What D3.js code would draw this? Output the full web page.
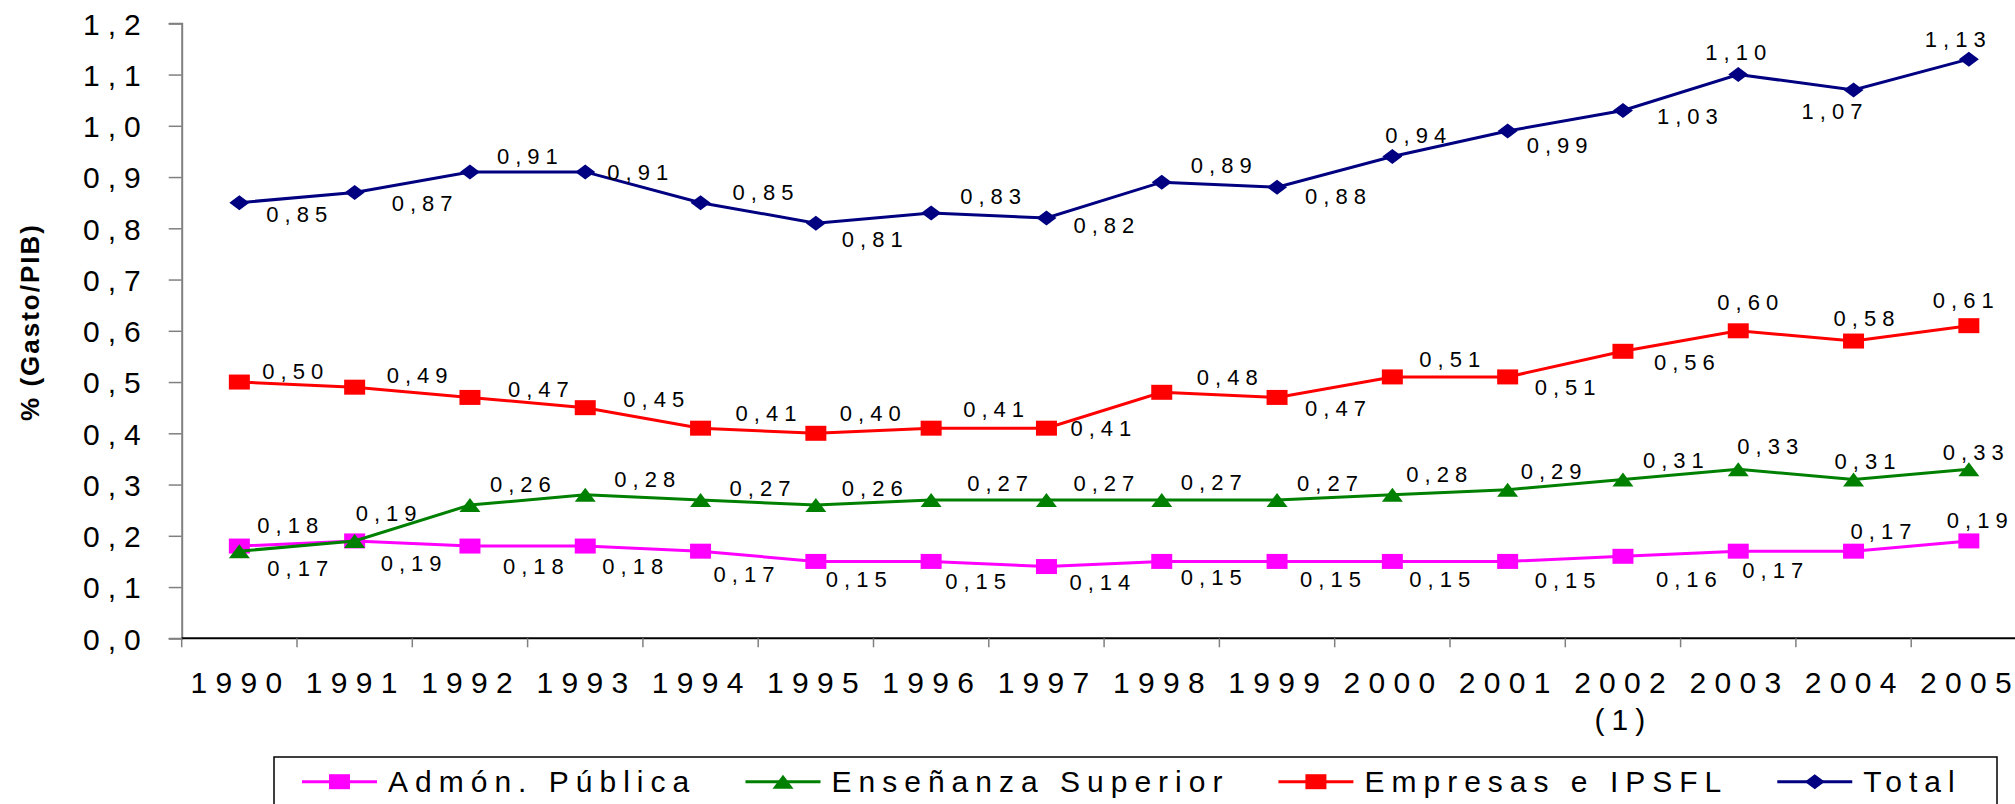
<!DOCTYPE html>
<html>
<head>
<meta charset="utf-8">
<script src="https://cdn.jsdelivr.net/npm/d3@7"></script>
<style>
  html, body { margin: 0; padding: 0; background: #fff; }
  svg { display: block; font-family: "Liberation Sans", Arial, sans-serif; }
</style>
</head>
<body>
<svg id="chart" width="2015" height="804"></svg>
<script>
// ---- Data ----
const categories = ["1990","1991","1992","1993","1994","1995","1996","1997","1998","1999","2000","2001","2002\n(1)","2003","2004","2005"];
const yTickValues = [0, 0.1, 0.2, 0.3, 0.4, 0.5, 0.6, 0.7, 0.8, 0.9, 1.0, 1.1, 1.2];
const seriesNames = ["Admón. Pública", "Enseñanza Superior", "Empresas e IPSFL", "Total"];
const admon     = [0.18, 0.19, 0.18, 0.18, 0.17, 0.15, 0.15, 0.14, 0.15, 0.15, 0.15, 0.15, 0.16, 0.17, 0.17, 0.19];
const ensenanza = [0.17, 0.19, 0.26, 0.28, 0.27, 0.26, 0.27, 0.27, 0.27, 0.27, 0.28, 0.29, 0.31, 0.33, 0.31, 0.33];
const empresas  = [0.50, 0.49, 0.47, 0.45, 0.41, 0.40, 0.41, 0.41, 0.48, 0.47, 0.51, 0.51, 0.56, 0.60, 0.58, 0.61];
const total     = [0.85, 0.87, 0.91, 0.91, 0.85, 0.81, 0.83, 0.82, 0.89, 0.88, 0.94, 0.99, 1.03, 1.10, 1.07, 1.13];
const yTitle = "% (Gasto/PIB)";

// ---- Label placement (offsets from each point, in px: [dx, dy]) ----
const admonLabelOff = [[19,-13],[27,30],[34,28],[18,28],[14,31],[11,26],[15,28],[24,23],[20,24],[24,26],[18,26],[28,27],[34,31],[5,27],[-2,-12],[-21,-13]];
const ensLabelOff   = [[29,25],[2,-20],[21,-13],[30,-8],[30,-4],[27,-9],[37,-9],[28,-9],[20,-10],[21,-9],[15,-13],[14,-11],[21,-11],[0,-15],[-18,-10],[-25,-9]];
const empLabelOff   = [[24,-3],[33,-4],[39,0],[39,-1],[36,-7],[25,-12],[33,-11],[25,8],[36,-7],[29,19],[28,-10],[28,18],[32,19],[-20,-21],[-19,-15],[-35,-18]];
const totLabelOff   = [[28,19],[38,19],[28,-8],[23,8],[33,-3],[27,24],[30,-9],[28,15],[30,-9],[29,17],[-6,-14],[20,22],[35,14],[-32,-15],[-51,29],[-43,-12]];

// ---- Styles ----
const colors = ["#FF00FF", "#008000", "#FF0000", "#000080"];
const markerPaths = [
  "M-10.5,-7.5H10.5V7.5H-10.5Z",        // square
  "M0,-7L10.5,7L-10.5,7Z",              // triangle
  "M-10.5,-7.5H10.5V7.5H-10.5Z",        // square
  "M0,-7.5L10,0L0,7.5L-10,0Z"           // diamond
];
const seriesValues = [admon, ensenanza, empresas, total];
const seriesOffsets = [admonLabelOff, ensLabelOff, empLabelOff, totLabelOff];

// spacing between characters without trailing space
function spaced(sel, str, ls) {
  sel.attr("dx", Array.from(str).map((c, i) => i === 0 ? 0 : ls).join(" ")).text(str);
}

// ---- Layout ----
const plotLeft = 181.7, bandW = 115.3, plotTop = 23.3, plotBottom = 638.3;
const svg = d3.select("#chart");
svg.append("rect").attr("width", 2015).attr("height", 804).attr("fill", "#fff");

const x = d3.scaleBand().domain(categories).range([plotLeft, plotLeft + bandW * categories.length]).padding(0);
const y = d3.scaleLinear().domain([0, 1.2]).range([plotBottom, plotTop]);
const fmtComma = f => v => f(v).replace(".", ",");
const cxOf = c => x(c) + x.bandwidth() / 2;

// Y axis
const yAxis = d3.axisLeft(y).tickValues(yTickValues).tickSize(13).tickPadding(0).tickFormat(fmtComma(d3.format(".1f")));
const gy = svg.append("g").attr("transform", `translate(${plotLeft},0)`).call(yAxis);
gy.select(".domain").attr("stroke", "#808080").attr("stroke-width", 2);
gy.selectAll(".tick line").attr("stroke", "#808080").attr("stroke-width", 1.5);
gy.selectAll(".tick text")
  .attr("x", -41).attr("dy", "0.36em")
  .attr("font-size", 30).attr("fill", "#000")
  .attr("font-family", "Liberation Sans, Arial, sans-serif")
  .each(function(d) { spaced(d3.select(this), fmtComma(d3.format(".1f"))(d), 8); });

// X axis
svg.append("line").attr("x1", plotLeft).attr("x2", 2015).attr("y1", plotBottom).attr("y2", plotBottom)
  .attr("stroke", "#000").attr("stroke-width", 2);
const boundaries = d3.range(categories.length + 1).map(i => plotLeft + i * x.step());
svg.append("g").selectAll("line").data(boundaries).join("line")
  .attr("x1", d => d).attr("x2", d => d).attr("y1", plotBottom).attr("y2", plotBottom + 9)
  .attr("stroke", "#808080").attr("stroke-width", 1.5);
const xg = svg.append("g");
categories.forEach(c => {
  c.split("\n").forEach((p, i) => {
    const t = xg.append("text")
      .attr("x", cxOf(c) - 3)
      .attr("y", 693 + i * 37)
      .attr("text-anchor", "middle")
      .attr("font-size", 30).attr("fill", "#000");
    spaced(t, p, i === 0 ? 8.3 : 7);
  });
});

// Y title
svg.append("text")
  .attr("transform", "translate(39,322) rotate(-90)")
  .attr("text-anchor", "middle")
  .attr("font-size", 26).attr("font-weight", "bold").attr("letter-spacing", 2)
  .attr("fill", "#000")
  .text(yTitle);

// Series
const line = d3.line().x((d, i) => cxOf(categories[i])).y(d => y(d));
seriesValues.forEach((vals, s) => {
  const g = svg.append("g");
  g.append("path").attr("d", line(vals)).attr("fill", "none")
    .attr("stroke", colors[s]).attr("stroke-width", 3);
  g.selectAll("path.m").data(vals).join("path").attr("class", "m")
    .attr("d", markerPaths[s])
    .attr("transform", (d, i) => `translate(${cxOf(categories[i])},${y(d)})`)
    .attr("fill", colors[s]);
});
// Labels (on top)
seriesValues.forEach((vals, s) => {
  svg.append("g").selectAll("text").data(vals).join("text")
    .attr("x", (d, i) => cxOf(categories[i]) + seriesOffsets[s][i][0] - 1)
    .attr("y", (d, i) => y(d) + seriesOffsets[s][i][1])
    .attr("font-size", 22).attr("fill", "#000")
    .each(function(d) { spaced(d3.select(this), fmtComma(d3.format(".2f"))(d), 6); });
});

// Legend
const legY = 781.7;
svg.append("rect").attr("x", 274).attr("y", 757).attr("width", 1723).attr("height", 60)
  .attr("fill", "#fff").attr("stroke", "#000").attr("stroke-width", 1.5);
let lx = 302;
seriesNames.forEach((name, s) => {
  const g = svg.append("g");
  g.append("line").attr("x1", lx).attr("x2", lx + 75).attr("y1", legY).attr("y2", legY)
    .attr("stroke", colors[s]).attr("stroke-width", 3);
  g.append("path").attr("d", markerPaths[s]).attr("transform", `translate(${lx + 37.5},${legY})`)
    .attr("fill", colors[s]);
  const t = g.append("text").attr("x", lx + 86).attr("y", 792)
    .attr("font-size", 30).attr("fill", "#000");
  spaced(t, name, 7);
  lx = lx + 86 + t.node().getBBox().width + 56;
});
</script>
</body>
</html>
